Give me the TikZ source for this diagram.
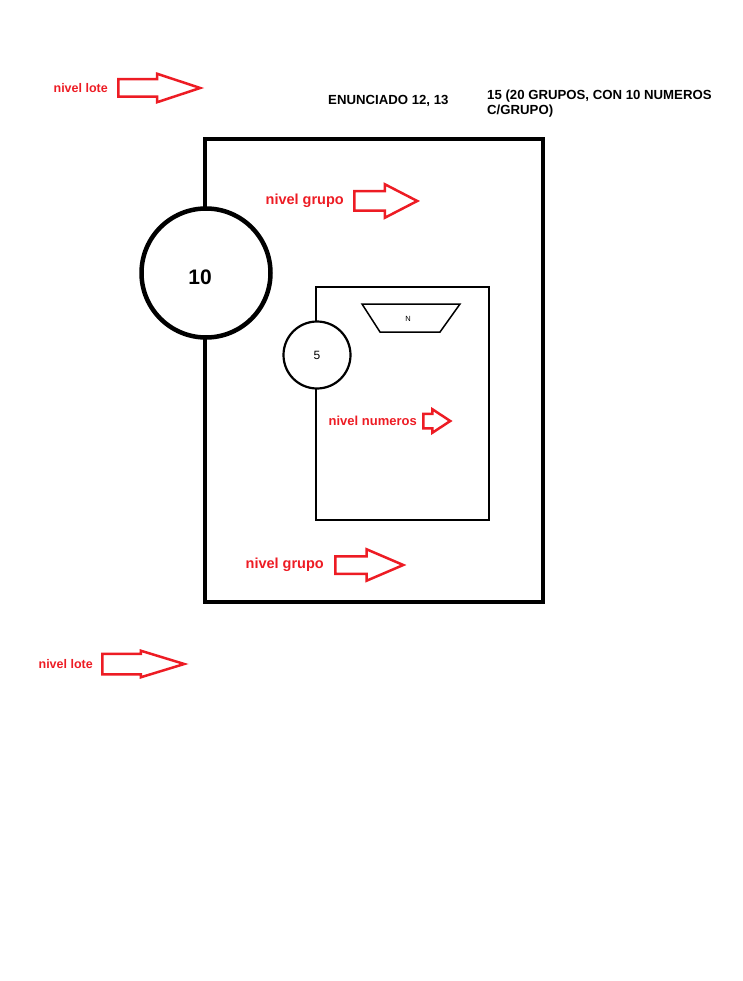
\documentclass[tikz,border=0pt]{standalone}
\usepackage{fontspec}
\setmainfont{Liberation Sans}
\usetikzlibrary{shapes.arrows,positioning}
\definecolor{rojo}{RGB}{237,28,36}

\tikzset{
    flecha/.style n args={4}{single arrow, draw=rojo, line width=2.5pt, inner xsep=0pt,
        inner ysep=#1, single arrow head extend=#2, single arrow tip angle=#3,
        minimum height=#4, anchor=tail},
    nivel/.style={text=rojo, inner sep=0pt, font=\bfseries\fontsize{#1}{#1}\selectfont},
    titulo/.style={inner sep=0pt, font=\bfseries\fontsize{13.2}{15}\selectfont}
}

\begin{document}
\begin{tikzpicture}[x=1pt, y=-1pt]
    \useasboundingbox (0,0) rectangle (743,981);

    % titulo
    \node[titulo, anchor=base west] (enun) at (328,105) {ENUNCIADO 12, 13};
    \node[titulo, anchor=north west, align=left] (total) at (487,89.5) {15 (20 GRUPOS, CON 10 NUMEROS\\C/GRUPO)};

    % nivel lote
    \node[flecha={7.5pt}{5.5pt}{36.5}{82pt}] (lote1) at (117,88) {};
    \node[nivel=12.5, left=9pt of lote1.tail] {nivel lote};
    \node[flecha={9pt}{3pt}{34}{82pt}] (lote2) at (101,664) {};
    \node[nivel=12.5, left=8pt of lote2.tail] {nivel lote};

    % nivel grupo
    \draw[line width=4.5pt] (205,139) rectangle (543,602);
    \node[draw, circle, line width=4.5pt, fill=white, minimum size=129pt] (diez) at (206,273) {};
    \node[font=\bfseries\fontsize{21}{21}\selectfont] at ([xshift=-6pt, yshift=-4pt]diez.center) {10};
    \node[flecha={8.5pt}{7pt}{54.6}{63pt}] (grupo1) at (353,201) {};
    \node[nivel=14.5, left=9pt of grupo1.tail] {nivel grupo};
    \node[flecha={7.5pt}{7pt}{46.4}{68pt}] (grupo2) at (334,565) {};
    \node[nivel=14.5, left=10pt of grupo2.tail] {nivel grupo};

    % nivel numeros
    \draw[line width=2.2pt] (316,287) rectangle (489,520);
    \node[draw, circle, line width=2.2pt, fill=white, minimum size=67pt,
        font=\fontsize{12}{12}\selectfont] (cinco) at (317,355) {5};
    \draw[line width=1.5pt] (362,304) -- (460,304) -- (440,332) -- (380,332) -- cycle;
    \node[font=\fontsize{7.5}{7.5}\selectfont] (ene) at (408,319) {N};
    \node[flecha={6pt}{4.5pt}{66.6}{27pt}] (num) at (422,421) {};
    \node[nivel=13, left=5pt of num.tail] {nivel numeros};
\end{tikzpicture}
\end{document}
